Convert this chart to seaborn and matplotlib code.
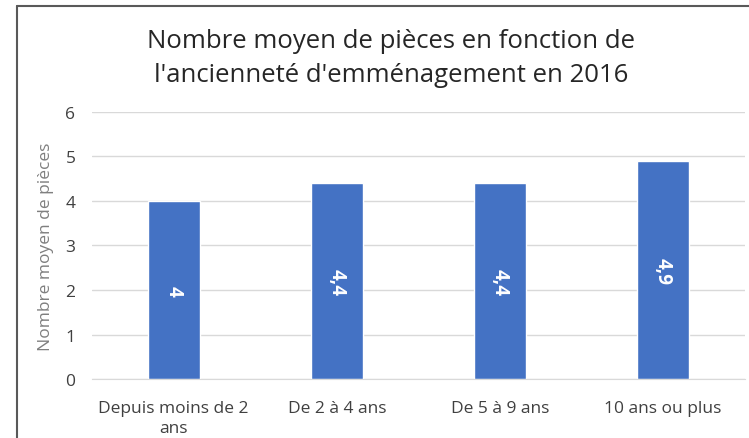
import numpy as np
import pandas as pd
import matplotlib
import matplotlib.pyplot as plt
from matplotlib.lines import Line2D
import seaborn as sns
matplotlib.use('Agg')

categories = ["Depuis moins de 2\nans", "De 2 à 4 ans", "De 5 à 9 ans", "10 ans ou plus"]
values = [4.0, 4.4, 4.4, 4.9]
value_labels = ["4", "4,4", "4,4", "4,9"]
y_ticks = [0, 1, 2, 3, 4, 5, 6]

sns.set_style("white")
plt.rcParams['font.family'] = ['Open Sans', 'DejaVu Sans']

df = pd.DataFrame({"categorie": categories, "valeur": values})

fig = plt.figure(figsize=(7.49, 4.39), dpi=100)
ax = fig.add_axes([0.123, 0.134, 0.871, 0.609])
sns.barplot(data=df, x="categorie", y="valeur", color="#4472C4", width=0.32,
            saturation=1, ax=ax)

ax.set_ylim(0, 6)
ax.set_yticks(y_ticks)
ax.yaxis.grid(True, color="#d9d9d9", linewidth=1)
ax.set_axisbelow(True)
for s in ["top", "right", "left"]:
    ax.spines[s].set_visible(False)
ax.spines["bottom"].set_color("#d9d9d9")
ax.tick_params(axis="both", length=0, labelsize=12.5, colors="#404040")
ax.tick_params(axis="x", pad=15)
ax.tick_params(axis="y", pad=12)
ax.set_xlabel("")
ax.set_ylabel("Nombre moyen de pièces", fontsize=12.5, color="#7f7f7f", labelpad=8)
for t in ax.get_xticklabels():
    t.set_linespacing(1.35)

ax.bar_label(ax.containers[0], labels=value_labels, label_type="center",
             rotation=-90, color="white", fontweight="bold", fontsize=13.5)

fig.suptitle("Nombre moyen de pièces en fonction de\nl'ancienneté d'emménagement en 2016",
             x=0.522, y=0.935, fontsize=18.5, color="#262626", linespacing=1.5)

# cadre du graphique (bord gauche et haut)
fig.add_artist(Line2D([17 / 749, 17 / 749], [0, 1 - 7 / 439], color="#595959", linewidth=1.5))
fig.add_artist(Line2D([17 / 749, 1], [1 - 7 / 439, 1 - 7 / 439], color="#595959", linewidth=1.5))

fig.savefig("out.png", dpi=100)
plt.close()
